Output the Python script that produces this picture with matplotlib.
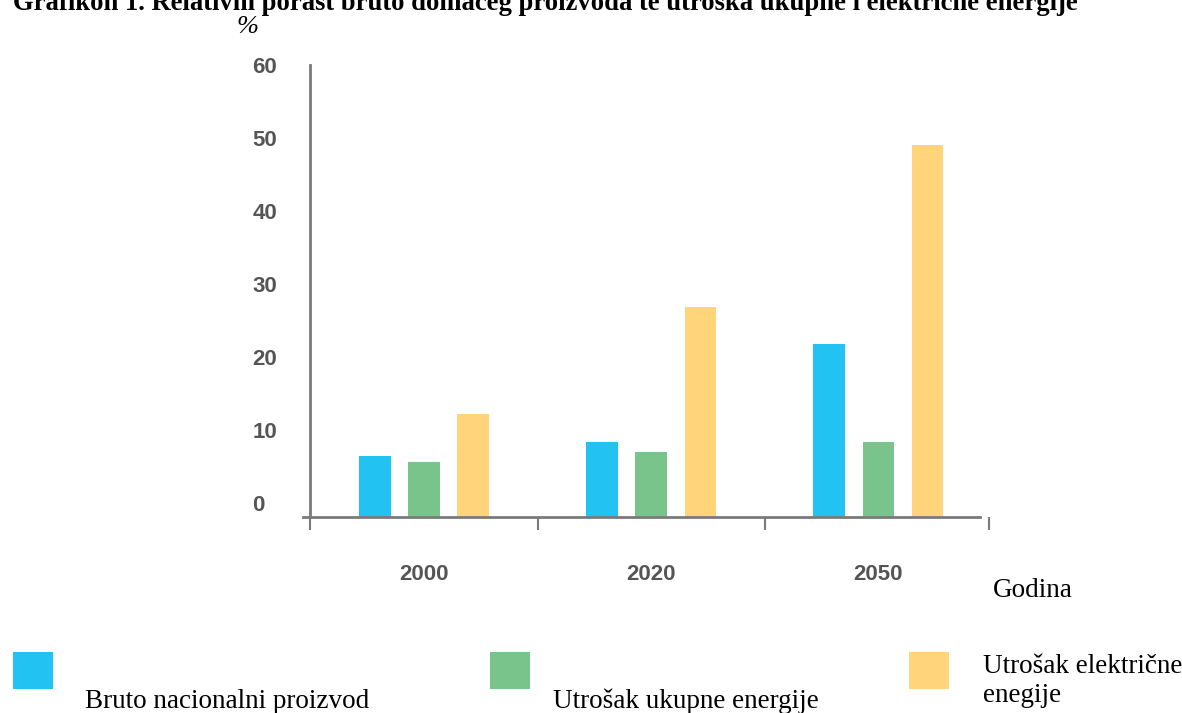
"""Grafikon 1 - relativni porast BDP-a te utroška ukupne i električne energije."""
import numpy as np
import matplotlib
matplotlib.use('Agg')
import matplotlib.pyplot as plt
from matplotlib.patches import Rectangle

W, H = 1182, 713

years = ['2000', '2020', '2050']
bdp = [6.5, 8.4, 21.8]          # Bruto nacionalni proizvod
ukupna = [5.7, 7.1, 8.4]        # Utrošak ukupne energije
elektricna = [12.2, 26.9, 49.0]  # Utrošak električne energije
yticks = [0, 10, 20, 30, 40, 50, 60]
group_edges = [-0.5, 0.5, 1.5, 2.49]

series = [
    (bdp, '#22C3F2', 'Bruto nacionalni proizvod'),
    (ukupna, '#79C48A', 'Utrošak ukupne energije'),
    (elektricna, '#FFD47A', 'Utrošak električne\nenegije'),
]

SERIF = 'Liberation Serif'
SANS = 'Liberation Sans'
GRAY = '#7a7a7a'

fig = plt.figure(figsize=(W / 100, H / 100), dpi=100)
ax = fig.add_axes([303 / W, 1 - 517 / H, (990 - 303) / W, (517 - 65) / H])

ymin, ymax = -1.86, 59.6
x = np.arange(len(years))
offset, width = 0.216, 0.137
for i, (vals, color, _) in enumerate(series):
    v = np.array(vals)
    ax.bar(x + (i - 1) * offset, v - ymin, width, bottom=ymin, color=color,
           linewidth=0)

ax.set_xlim(-0.533, 2.493)
ax.set_ylim(ymin, ymax)

for s in ['top', 'right']:
    ax.spines[s].set_visible(False)
ax.spines['left'].set_position(('data', -0.5))
for s in ['left', 'bottom']:
    ax.spines[s].set_color(GRAY)
    ax.spines[s].set_linewidth(2)
ax.spines['bottom'].set_bounds(-0.533, 2.45)

ax.set_yticks(yticks)
ax.set_yticklabels([str(t) for t in yticks], fontfamily=SANS, fontsize=16,
                   fontweight='bold', color='#555555', ha='left')
ax.tick_params(axis='y', length=0, pad=42)

ax.set_xticks(x)
ax.set_xticklabels(years, fontfamily=SANS, fontsize=16, fontweight='bold',
                   color='#555555')
ax.tick_params(axis='x', which='major', length=0, pad=34)
ax.set_xticks(group_edges, minor=True)
ax.tick_params(axis='x', which='minor', length=9, width=1.5, color=GRAY,
               direction='out')

# naslov (gornji dio odrezan kao na skenu)
fig.text(13 / W, 1 - 10 / H,
         'Grafikon 1. Relativni porast bruto domaćeg proizvoda te utroška '
         'ukupne i električne energije',
         fontfamily=SERIF, fontweight='bold', fontsize=19.2, va='baseline',
         ha='left')
fig.text(247 / W, 1 - 33 / H, '%', fontfamily=SERIF, style='italic',
         fontsize=19, va='baseline', ha='center')
fig.text(993 / W, 1 - 597 / H, 'Godina', fontfamily=SERIF, fontsize=19.5,
         va='baseline', ha='left')

# legenda (baseline zadnjeg retka)
legend_boxes = [13, 490, 909]
legend_text = [(85, 708), (553, 708), (983, 702)]
for (vals, color, label), bx, (tx, ty) in zip(series, legend_boxes, legend_text):
    fig.patches.append(Rectangle((bx / W, 1 - 689 / H), 40 / W, 37 / H,
                                 transform=fig.transFigure, color=color,
                                 linewidth=0))
    fig.text(tx / W, 1 - ty / H, label, fontfamily=SERIF, fontsize=19.5,
             va='baseline', ha='left', linespacing=1.2)

fig.savefig('out.png', dpi=100)
